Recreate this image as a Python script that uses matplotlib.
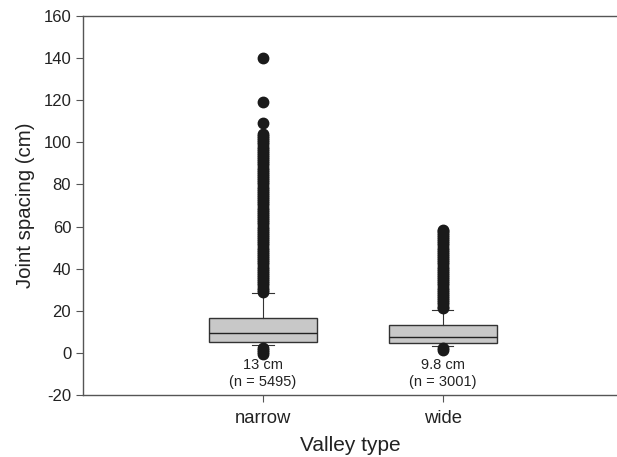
import matplotlib
matplotlib.use("Agg")
import matplotlib.pyplot as plt

plt.rcParams["font.family"] = ["Liberation Sans", "DejaVu Sans"]

# data
categories = ["narrow", "wide"]
q1 = [5.2, 4.5]
medians = [9.4, 7.4]
q3 = [16.6, 13.2]
whisker_lo = [3.7, 3.3]
whisker_hi = [28.4, 20.4]
fliers_narrow = [140, 119, 109, 104, 103, 102, 101, 100, 99, 98, 97, 96, 95, 94, 93,
                 92, 91, 90, 89, 88, 87, 86, 85, 84, 83, 82, 81, 80, 79, 78, 77,
                 76, 75, 74, 73, 72, 71, 70, 69, 68, 67, 66, 65, 64, 63, 62, 61,
                 60, 59, 58, 57, 56, 55, 54, 53, 52, 51, 50, 49, 48, 47, 46, 45,
                 44, 43, 42, 41, 40, 39, 38, 37, 36, 35, 34, 33, 32, 31, 30, 29,
                 2.5, 1.5, 0.5, -0.5]
fliers_wide = [58.5, 58, 57, 56, 55, 54, 53, 52, 51, 50, 49, 48, 47, 46, 45, 44,
               43, 42, 41, 40, 39, 38, 37, 36, 35, 34, 33, 32, 31, 30, 29, 28,
               27, 26, 25, 24, 23, 22, 21.5, 2.5, 1.5]
mean_labels = ["13 cm", "9.8 cm"]
n_labels = ["(n = 5495)", "(n = 3001)"]
y_ticks = [-20, 0, 20, 40, 60, 80, 100, 120, 140, 160]

stats = []
for i, name in enumerate(categories):
    stats.append({
        "label": name,
        "q1": q1[i],
        "med": medians[i],
        "q3": q3[i],
        "whislo": whisker_lo[i],
        "whishi": whisker_hi[i],
        "fliers": [fliers_narrow, fliers_wide][i],
    })

fig = plt.figure(figsize=(6.17, 4.57), dpi=100)
ax = fig.add_axes([0.1345, 0.1357, 0.8655, 0.8293])

positions = [1, 2]
ax.bxp(
    stats,
    positions=positions,
    widths=0.6,
    patch_artist=True,
    boxprops=dict(facecolor="#c8c8c8", edgecolor="#333333", linewidth=1.0),
    medianprops=dict(color="#222222", linewidth=1.0),
    whiskerprops=dict(color="#333333", linewidth=0.8),
    capprops=dict(color="#333333", linewidth=0.8),
    capwidths=0.12,
    flierprops=dict(marker="o", markerfacecolor="#1a1a1a", markeredgecolor="#1a1a1a",
                    markersize=7.5),
)

for i, pos in enumerate(positions):
    ax.text(pos, -5.8, mean_labels[i], ha="center", va="center", fontsize=10.5, color="#222222")
    ax.text(pos, -13.7, n_labels[i], ha="center", va="center", fontsize=10.5, color="#222222")

ax.set_xlim(0, 2.97)
ax.set_ylim(-20, 160)
ax.set_yticks(y_ticks)
ax.set_yticklabels([str(v) for v in y_ticks])
ax.set_xticks(positions)
ax.set_xticklabels(categories)

ax.spines["right"].set_visible(False)
for s in ["left", "top", "bottom"]:
    ax.spines[s].set_color("#555555")
    ax.spines[s].set_linewidth(1.0)
ax.tick_params(axis="both", direction="out", length=5, width=0.8, color="#555555",
               labelcolor="#222222")
ax.tick_params(axis="y", labelsize=12)
ax.tick_params(axis="x", labelsize=13.3, pad=6)

ax.set_xlabel("Valley type", fontsize=15, color="#222222", labelpad=6)
ax.set_ylabel("Joint spacing (cm)", fontsize=14.7, color="#222222", labelpad=6)

fig.savefig("out.png", dpi=100)
plt.close(fig)
